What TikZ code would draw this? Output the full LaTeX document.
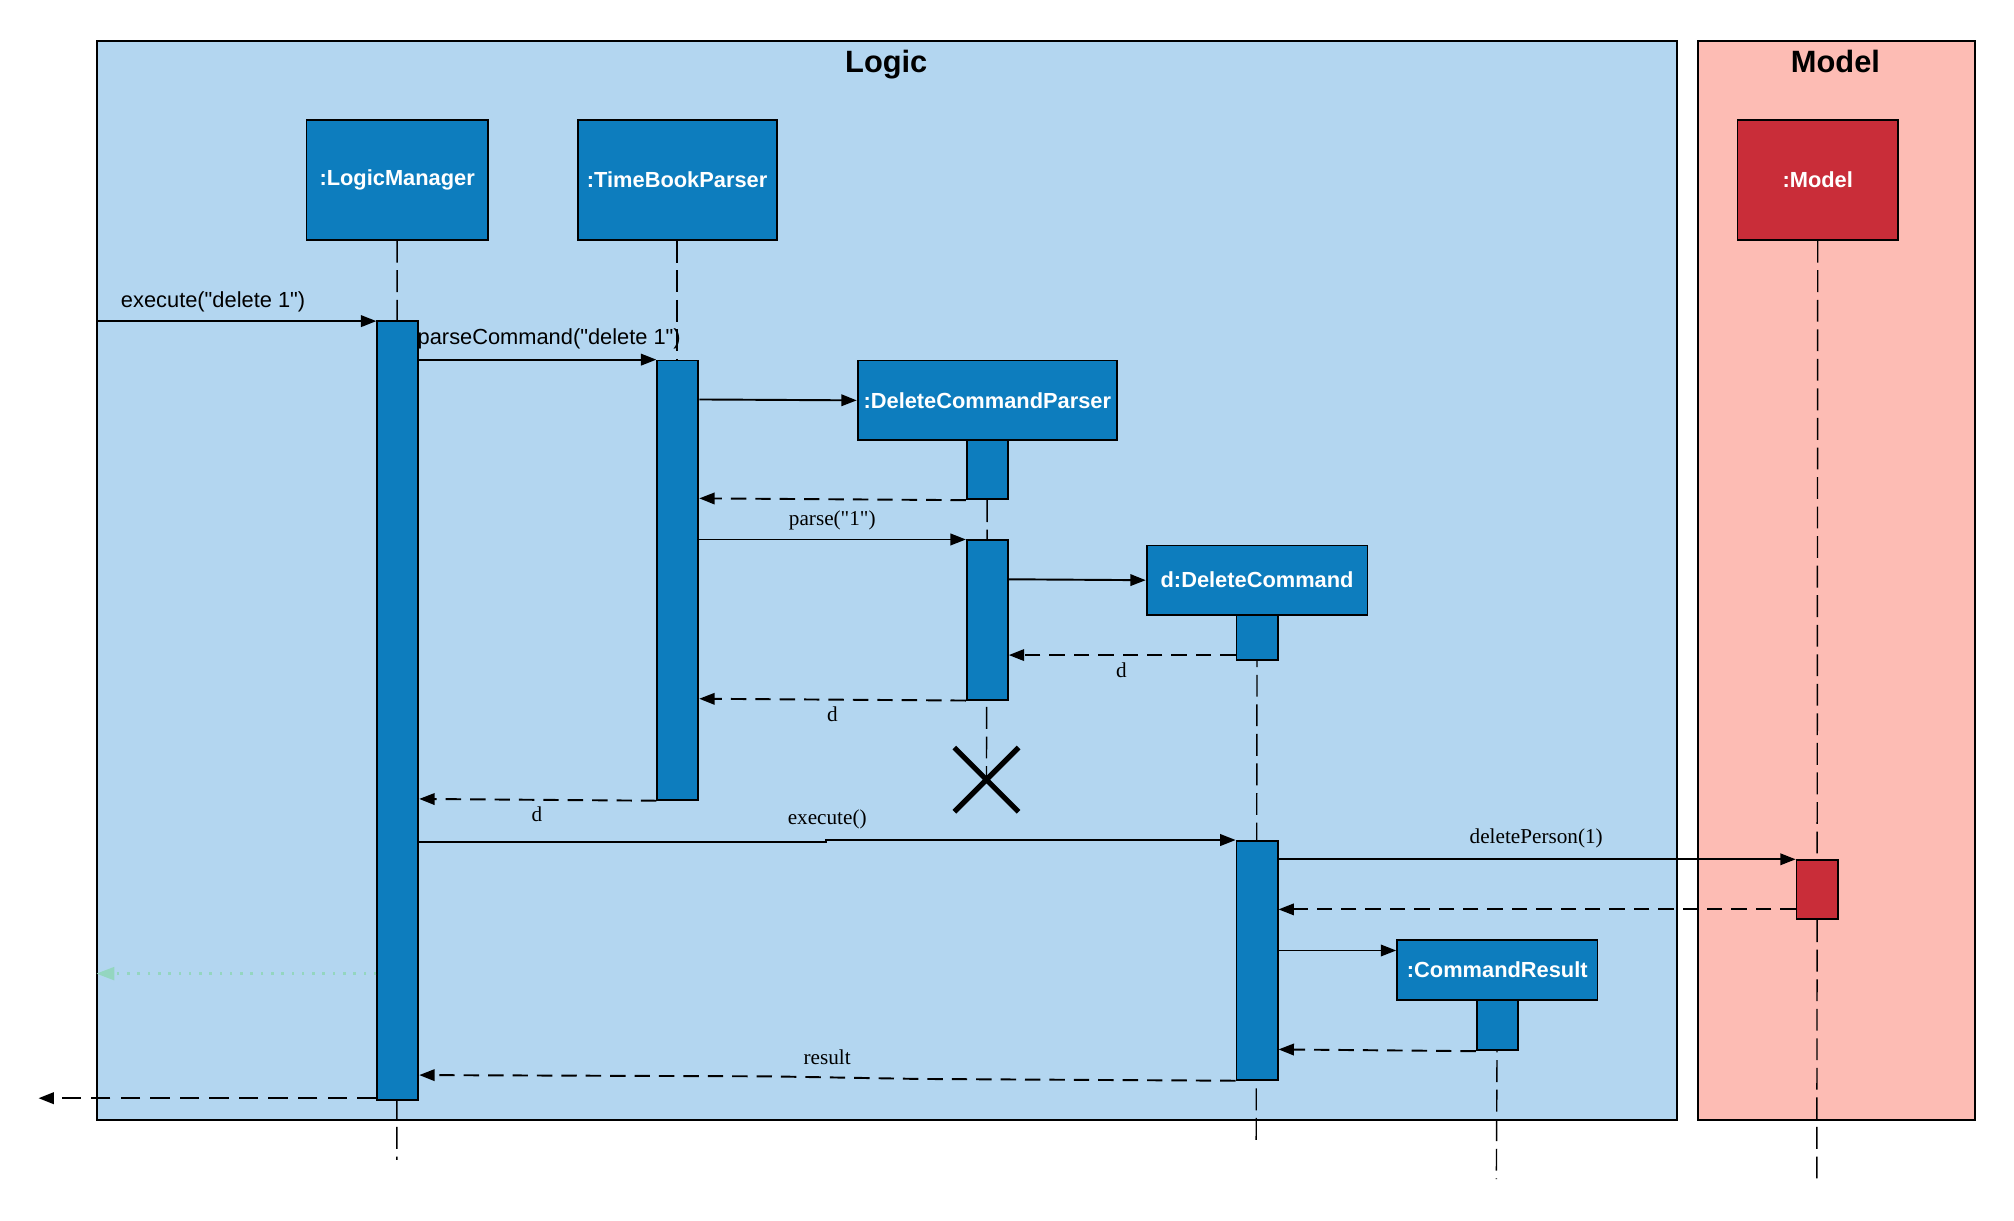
\documentclass[tikz,border=0pt]{standalone}
\usepackage{fontspec}
\newfontfamily\diagsans{Liberation Sans}
\newfontfamily\diagserif{Liberation Serif}
\usetikzlibrary{arrows.meta}
\definecolor{logicbg}{HTML}{B3D6F0}
\definecolor{objblue}{HTML}{0D7DBE}
\definecolor{modelbg}{HTML}{FDBCB4}
\definecolor{objred}{HTML}{C92D39}
\definecolor{faintgreen}{HTML}{94D6C0}
\begin{document}
\begin{tikzpicture}[x=1pt,y=-1pt,
  frame/.style={draw=black, line width=1.5pt, anchor=north west, inner sep=0pt},
  titletext/.style={font=\diagsans\bfseries\fontsize{24}{28}\selectfont, inner sep=0pt, anchor=base},
  obj/.style={draw=black, line width=1.4pt, fill=objblue, text=white,
    font=\diagsans\bfseries\fontsize{17}{20}\selectfont, inner sep=0pt, anchor=north west},
  actbar/.style={draw=black, line width=1.4pt, fill=objblue, inner sep=0pt,
    anchor=north west, minimum width=32pt},
  life/.style={draw=black, line width=1.1pt, dash pattern=on 17pt off 6pt},
  msg/.style={draw=black, line width=1.5pt, -{Triangle[length=12pt,width=9pt]}},
  ret/.style={msg, dash pattern=on 12pt off 7pt},
  slabel/.style={font=\diagsans\fontsize{17}{20}\selectfont, inner sep=0pt},
  rlabel/.style={font=\diagserif\fontsize{16.5}{20}\selectfont, inner sep=0pt},
]
\useasboundingbox (0,0) rectangle (1568,950);
\fill[white] (0,0) rectangle (1568,950);

% frames
\node[frame, fill=logicbg, minimum width=1230pt, minimum height=840pt] (logic) at (75,31) {};
\node[frame, fill=modelbg, minimum width=216pt, minimum height=840pt] (model) at (1321,31) {};
\node[titletext] (logicT) at (690,56.5) {Logic};
\node[titletext] (modelT) at (1429,56.5) {Model};

% lifeline end points
\coordinate (lmEnd) at (309,903);
\coordinate (xc) at (768,607);
\coordinate (dcEnd) at (978,888);
\coordinate (crEnd) at (1165,918);
\coordinate (mdlEnd) at (1414.5,918);
\coordinate (outL) at (30,855);

% objects
\node[obj, minimum width=141pt, minimum height=93pt] (lm) at (238,93) {:LogicManager};
\node[obj, minimum width=155pt, minimum height=93pt] (tbp) at (449,93) {:TimeBookParser};
\node[obj, minimum width=202pt, minimum height=62pt] (dcp) at (667,280) {:DeleteCommandParser};
\node[obj, minimum width=172pt, minimum height=54pt] (dc) at (892,424) {d:DeleteCommand};
\node[obj, minimum width=156pt, minimum height=47pt] (cr) at (1087,731) {:CommandResult};
\node[obj, fill=objred, minimum width=125pt, minimum height=93pt] (mdl) at (1352,93) {:Model};

% lifelines
\draw[life] (lm.south) -- (lmEnd);
\draw[life] (tbp.south) -- (tbp.south |- 0,280);
\draw[life] (dcp.south) -- (xc);
\draw[life] (dc.south) -- (dcEnd);
\draw[life] (cr.south) -- (crEnd);
\draw[life] (mdl.south) -- (mdlEnd);

% activation bars
\node[actbar, minimum height=607pt] (lmA) at (293,249) {};
\node[actbar, minimum height=342pt] (tbpA) at (511,280) {};
\node[actbar, minimum height=46pt] (dcpA1) at (752,342) {};
\node[actbar, minimum height=124pt] (dcpA2) at (752,420) {};
\node[actbar, minimum height=35pt] (dcA1) at (962,478) {};
\node[actbar, minimum height=186pt] (dcA2) at (962,654) {};
\node[actbar, minimum height=39pt] (crA) at (1149,778) {};
\node[actbar, fill=objred, minimum height=46pt] (mdlA) at (1398,669) {};

% destruction mark
\draw[line width=4pt] (743,582) -- (793,632) (743,632) -- (793,582);

% messages
\draw[msg] (logic.west |- 0,250) -- (lmA.west |- 0,250);
\node[slabel, anchor=west] (l1) at (94,235) {execute("delete 1")};

\draw[msg] (lmA.east |- 0,280) -- (tbpA.north west);
\node[slabel, anchor=west] (l2) at (325,264) {parseCommand("delete 1")};

\draw[msg] (tbpA.east |- 0,311) -- (dcp.west);
\draw[ret] (dcpA1.south west) -- (tbpA.east |- 0,388);

\draw[msg] (tbpA.east |- 0,420) -- (dcpA2.north west);
\node[rlabel] (l5) at (648,405) {parse("1")};

\draw[msg] (dcpA2.east |- 0,451) -- (dc.west);
\draw[ret] (dcA1.west |- 0,510) -- (dcpA2.east |- 0,510);
\node[rlabel] (l7) at (873,522) {d};

\draw[ret] (dcpA2.south west) -- (tbpA.east |- 0,544);
\node[rlabel] (l8) at (648,556) {d};

\draw[ret] (tbpA.south west) -- (lmA.east |- 0,622);
\node[rlabel] (l9) at (418,634) {d};

\draw[msg] (lmA.east |- 0,655.5) -- (643,655.5) -- (643,654) -- (dcA2.north west);
\node[rlabel] (l10) at (644,638) {execute()};

\draw[msg] (dcA2.east |- 0,669) -- (mdlA.north west);
\node[rlabel] (l11) at (1196,653) {deletePerson(1)};

\draw[ret] (mdlA.west |- 0,708) -- (dcA2.east |- 0,708);
\draw[msg] (dcA2.east |- 0,740) -- (cr.west |- 0,740);
\draw[ret] (crA.south west) -- (dcA2.east |- 0,817);

\draw[ret] (dcA2.south west) -- (715,840) -- (600,838) -- (lmA.east |- 0,837);
\node[rlabel] (l15) at (644,823) {result};

\draw[ret, line width=1.7pt, dash pattern=on 15pt off 8pt] (lmA.west |- 0,855) -- (outL);

\draw[faintgreen, line width=2pt, dash pattern=on 2pt off 6pt,
  -{Triangle[length=14pt,width=10pt]}] (lmA.west |- 0,758) -- (logic.west |- 0,758);
\end{tikzpicture}
\end{document}
